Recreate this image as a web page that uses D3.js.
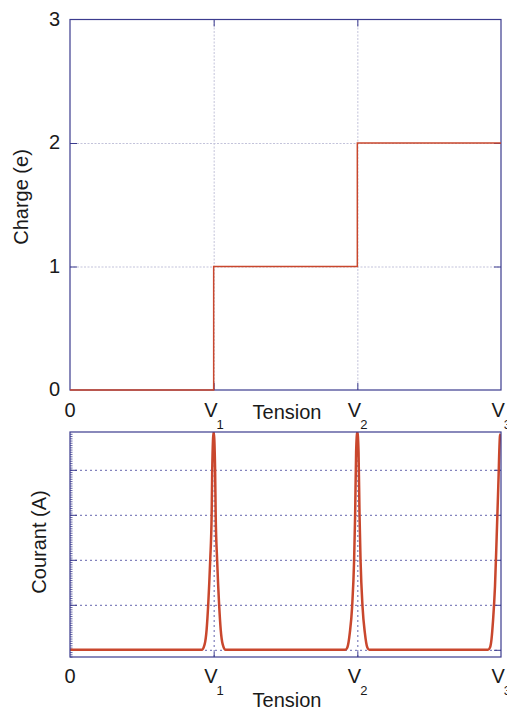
<!DOCTYPE html>
<html><head><meta charset="utf-8">
<script src="https://cdn.jsdelivr.net/npm/d3@7"></script>
<style>
body{margin:0;background:#fff}
text{font-family:"Liberation Sans",Arial,sans-serif;fill:#1a1a1a}
</style>
</head><body><svg id="c" width="507" height="711"></svg>
<script>
// ---------- data ----------
const tensionTicks = [0, 1, 2, 3];
const tensionMain = ["0", "V", "V", "V"];
const tensionSub = ["", "1", "2", "3"];
const chargeTicks = [0, 1, 2, 3];
const chargeLabels = ["0", "1", "2", "3"];
const chargeTension = [0, 1, 2, 3];
const chargeValues = [0, 1, 2, 2];
const courantGrid = [0, 1, 2, 3, 4];
const courantTension = [0, 0.917, 0.937, 0.951, 0.962, 0.976, 0.986, 0.990, 1.000, 1.010, 1.014, 1.024, 1.038, 1.049, 1.063, 1.083,
  1.9165, 1.9304, 1.9478, 1.9638, 1.9777, 1.9847, 1.9916, 2.0, 2.0084, 2.0153, 2.0223, 2.0362, 2.0522, 2.0696, 2.0835,
  2.9094, 2.9234, 2.9338, 2.9442, 2.9582, 2.9700, 2.9812, 2.9930, 2.9975];
const courantValues = [0, 0, 0.12, 0.45, 1.0, 2.0, 3.0, 4.0, 4.85, 4.0, 3.0, 2.0, 1.0, 0.45, 0.12, 0,
  0, 0.05, 0.38, 0.96, 2.0, 3.0, 4.4, 4.85, 4.4, 3.0, 2.0, 0.96, 0.38, 0.05, 0,
  0, 0.05, 0.23, 0.63, 1.41, 2.52, 3.64, 4.75, 4.8];

// ---------- setup ----------
const navy = "#3b3b8e", red = "#c9472d";
const svg = d3.select("#c");
const x = d3.scaleLinear().domain([0, 3]).range([70, 501]);
const yT = d3.scaleLinear().domain([0, 3]).range([390, 19.5]);
const yB = d3.scaleLinear().domain([-0.16, 4.84]).range([657, 432]);

function clean(g){ g.select(".domain").remove(); return g; }

// ================= TOP CHART =================
const topG = svg.append("g");
topG.append("g").attr("transform", `translate(0,${yT(0)})`)
  .call(d3.axisBottom(x).tickValues([1, 2]).tickSize(-(yT(0) - yT(3))).tickFormat(""))
  .call(clean).selectAll("line").attr("stroke", "#c3c3da").attr("stroke-dasharray", "2,1.5");
topG.append("g").attr("transform", `translate(${x(0)},0)`)
  .call(d3.axisLeft(yT).tickValues([1, 2]).tickSize(-(x(3) - x(0))).tickFormat(""))
  .call(clean).selectAll("line").attr("stroke", "#c3c3da").attr("stroke-dasharray", "2,1.5");
const tk = 7;
topG.append("g").attr("transform", `translate(0,${yT(0)})`).call(d3.axisBottom(x).tickValues([1, 2]).tickSize(-tk).tickFormat("")).call(clean).selectAll("line").attr("stroke", navy);
topG.append("g").attr("transform", `translate(0,${yT(3)})`).call(d3.axisTop(x).tickValues([1, 2]).tickSize(-tk).tickFormat("")).call(clean).selectAll("line").attr("stroke", navy);
topG.append("g").attr("transform", `translate(${x(0)},0)`).call(d3.axisLeft(yT).tickValues([1, 2]).tickSize(-tk).tickFormat("")).call(clean).selectAll("line").attr("stroke", navy);
topG.append("g").attr("transform", `translate(${x(3)},0)`).call(d3.axisRight(yT).tickValues([1, 2]).tickSize(-tk).tickFormat("")).call(clean).selectAll("line").attr("stroke", navy);
topG.append("rect").attr("x", x(0)).attr("y", yT(3)).attr("width", x(3) - x(0)).attr("height", yT(0) - yT(3))
  .attr("fill", "none").attr("stroke", navy).attr("stroke-width", 1.2);
const stepLine = d3.line().x(d => x(d[0])).y(d => yT(d[1])).curve(d3.curveStepAfter);
topG.append("path").datum(chargeTension.map((t, i) => [t, chargeValues[i]]))
  .attr("d", stepLine).attr("fill", "none").attr("stroke", red).attr("stroke-width", 1.5);
topG.selectAll("text.yl").data(chargeTicks).enter().append("text")
  .attr("x", 60).attr("y", d => yT(d)).attr("dy", "0.3em").attr("text-anchor", "end")
  .attr("font-size", 20).text((d, i) => chargeLabels[i]);
function xLabels(g, baseY){
  tensionTicks.forEach((t, i) => {
    const tx = g.append("text").attr("font-size", 20).attr("y", baseY);
    if (tensionSub[i] === "") {
      tx.attr("x", x(t)).attr("text-anchor", "middle").text(tensionMain[i]);
    } else {
      tx.attr("x", x(t) - 9.5).attr("text-anchor", "start").text(tensionMain[i]);
      tx.append("tspan").attr("font-size", 13).attr("dx", -1).attr("dy", 12).text(tensionSub[i]);
    }
  });
}
xLabels(topG, 417);
topG.append("text").attr("x", 287).attr("y", 419).attr("text-anchor", "middle").attr("font-size", 20).text("Tension");
topG.append("text").attr("transform", "translate(27.5,197) rotate(-90)").attr("text-anchor", "middle").attr("font-size", 20).text("Charge (e)");

// ================= BOTTOM CHART =================
const botG = svg.append("g");
const gridCol = "#6565ad";
botG.append("g").attr("transform", `translate(${x(0)},0)`)
  .call(d3.axisLeft(yB).tickValues(courantGrid).tickSize(-(x(3) - x(0))).tickFormat(""))
  .call(clean).selectAll("line").attr("stroke", gridCol).attr("stroke-dasharray", "2,3");
botG.append("g").attr("transform", `translate(0,${yB.range()[0]})`)
  .call(d3.axisBottom(x).tickValues([1, 2]).tickSize(-(yB.range()[0] - yB.range()[1])).tickFormat(""))
  .call(clean).selectAll("line").attr("stroke", gridCol).attr("stroke-dasharray", "2,3");
botG.append("g").attr("transform", `translate(${x(0)},0)`)
  .call(d3.axisLeft(yB).tickValues(d3.range(-0.15, 4.84, 0.05)).tickSize(-2.5).tickFormat(""))
  .call(clean).selectAll("line").attr("stroke", navy).attr("stroke-width", 0.8);
botG.append("g").attr("transform", `translate(${x(0)},0)`).call(d3.axisLeft(yB).tickValues(courantGrid).tickSize(-tk).tickFormat("")).call(clean).selectAll("line").attr("stroke", navy);
botG.append("g").attr("transform", `translate(${x(3)},0)`).call(d3.axisRight(yB).tickValues(courantGrid).tickSize(-tk).tickFormat("")).call(clean).selectAll("line").attr("stroke", navy);
botG.append("g").attr("transform", `translate(0,${yB.range()[0]})`).call(d3.axisBottom(x).tickValues([1, 2]).tickSize(-5).tickFormat("")).call(clean).selectAll("line").attr("stroke", navy);
svg.append("clipPath").attr("id", "clipB").append("rect")
  .attr("x", x(0)).attr("y", yB.range()[1]).attr("width", x(3) - x(0)).attr("height", yB.range()[0] - yB.range()[1]);
const curLine = d3.line().x(d => x(d[0])).y(d => yB(d[1])).curve(d3.curveMonotoneX);
botG.append("path").datum(courantTension.map((t, i) => [t, courantValues[i]]))
  .attr("clip-path", "url(#clipB)")
  .attr("d", curLine).attr("fill", "none").attr("stroke", red).attr("stroke-width", 2.5)
  .attr("stroke-linejoin", "round");
botG.append("rect").attr("x", x(0)).attr("y", yB.range()[1]).attr("width", x(3) - x(0)).attr("height", yB.range()[0] - yB.range()[1])
  .attr("fill", "none").attr("stroke", navy).attr("stroke-width", 1.2);
xLabels(botG, 683);
botG.append("text").attr("x", 287).attr("y", 707).attr("text-anchor", "middle").attr("font-size", 20).text("Tension");
botG.append("text").attr("transform", "translate(46,542) rotate(-90)").attr("text-anchor", "middle").attr("font-size", 20).text("Courant (A)");
</script>
</body></html>
